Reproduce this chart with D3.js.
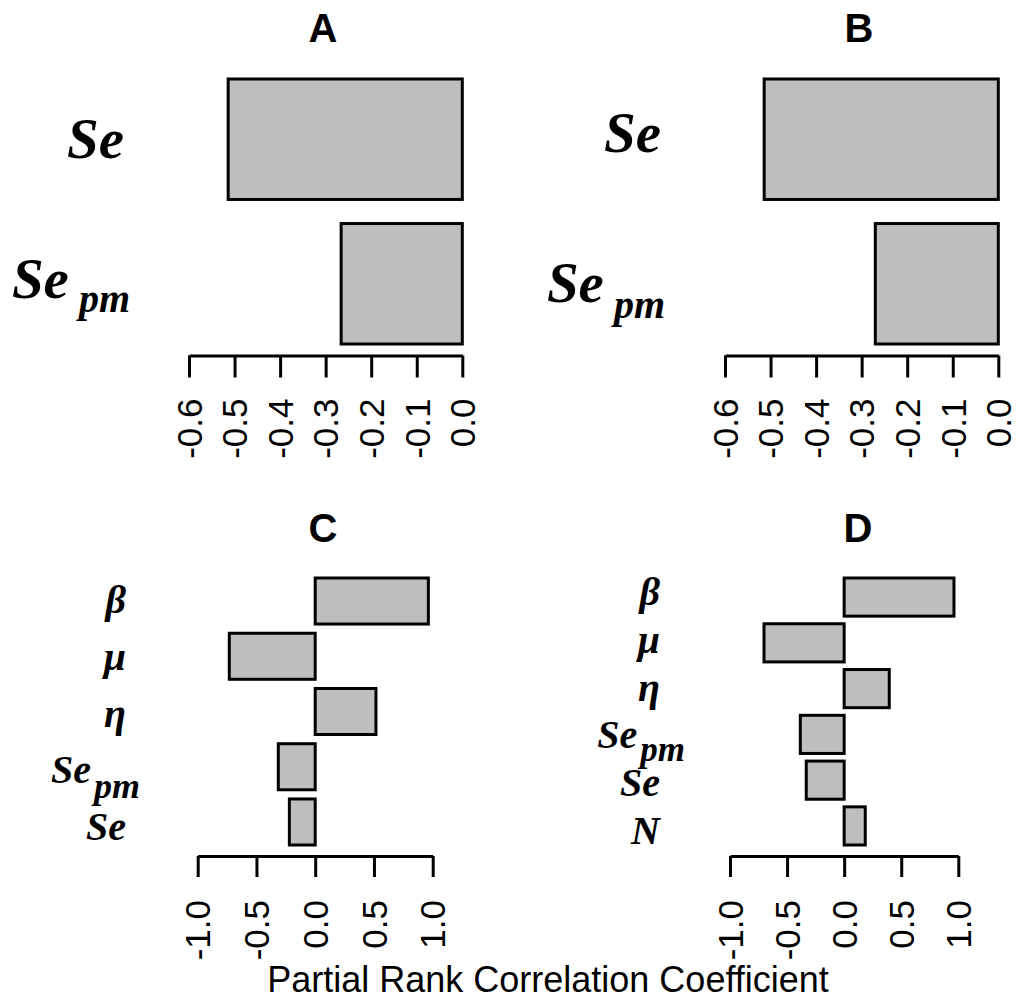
<!DOCTYPE html>
<html>
<head>
<meta charset="utf-8">
<script src="https://cdn.jsdelivr.net/npm/d3@7"></script>
<style>
  body { margin: 0; background: #fff; }
  svg { display: block; }
</style>
</head>
<body>
<script>
// PRCC values (top bar first)
const labelsAB = ['Se', 'Sepm'];
const valuesA = [-0.514, -0.266];
const valuesB = [-0.514, -0.270];

const labelsC = ['β', 'μ', 'η', 'Sepm', 'Se'];
const valuesC = [0.963, -0.731, 0.517, -0.314, -0.220];

const labelsD = ['β', 'μ', 'η', 'Sepm', 'Se', 'N'];
const valuesD = [0.962, -0.702, 0.395, -0.384, -0.332, 0.185];

const ticksAB = [-0.6, -0.5, -0.4, -0.3, -0.2, -0.1, 0.0];
const ticksCD = [-1.0, -0.5, 0.0, 0.5, 1.0];

const titles = ['A', 'B', 'C', 'D'];
const xTitle = 'Partial Rank Correlation Coefficient';

const width = 1020,
  height = 1003;

const svg = d3.select('body').append('svg')
  .attr('width', width)
  .attr('height', height);

// panel layout (pixels)
const panels = [
  {
    title: titles[0], labels: labelsAB, values: valuesA, ticks: ticksAB, domain: [-0.6, 0],
    xr: [189, 462.3], band: [79, 344], axisY: 355.5, tick: 22, gap: 43,
    tx: 323, ty: 42, lx: 124, lr: [158, 298], font: 57, sub: 40, subDx: 10, subDy: 14, over: 6,
  },
  {
    title: titles[1], labels: labelsAB, values: valuesB, ticks: ticksAB, domain: [-0.6, 0],
    xr: [725, 998.3], band: [79, 344], axisY: 355.5, tick: 22, gap: 43,
    tx: 859, ty: 42, lx: 661, lr: [152, 302], font: 57, sub: 40, subDx: 10, subDy: 16, over: 4,
  },
  {
    title: titles[2], labels: labelsC, values: valuesC, ticks: ticksCD, domain: [-1, 1],
    xr: [197.7, 432.7], band: [578, 845], axisY: 856, tick: 21, gap: 44,
    tx: 323, ty: 542, lx: 126, lr: [613, 840], font: 40, sub: 36, subDx: 3, subDy: 15, over: 14,
  },
  {
    title: titles[3], labels: labelsD, values: valuesD, ticks: ticksCD, domain: [-1, 1],
    xr: [730, 958.3], band: [578, 845], axisY: 856, tick: 21, gap: 44,
    tx: 858, ty: 542, lx: 660, lr: [605, 844], font: 40, sub: 35, subDx: 3, subDy: 13, over: 25,
  },
];

function drawPanel(p) {
  const g = svg.append('g');

  const x = d3.scaleLinear().domain(p.domain).range(p.xr);
  // R barplot: width 1, space 0.2
  const y = d3.scaleBand().domain(p.labels).range(p.band)
    .paddingInner(0.2 / 1.2).paddingOuter(0);
  const yl = d3.scalePoint().domain(p.labels).range(p.lr);

  const data = p.labels.map((l, i) => ({ label: l, value: p.values[i] }));

  // bars
  g.selectAll('rect')
    .data(data)
    .enter().append('rect')
    .attr('x', d => Math.min(x(0), x(d.value)))
    .attr('width', d => Math.abs(x(d.value) - x(0)))
    .attr('y', d => y(d.label))
    .attr('height', y.bandwidth())
    .attr('fill', '#bebebe')
    .attr('stroke', '#000')
    .attr('stroke-width', 3);

  // x axis
  const ax = g.append('g')
    .attr('transform', `translate(0,${p.axisY})`)
    .call(d3.axisBottom(x)
      .tickValues(p.ticks)
      .tickSize(p.tick)
      .tickSizeOuter(0)
      .tickFormat(d => d.toFixed(1)));
  ax.select('.domain').attr('stroke-width', 3);
  ax.selectAll('.tick line').attr('stroke-width', 3);
  ax.selectAll('.tick text')
    .attr('transform', 'rotate(-90)')
    .attr('x', -p.gap)
    .attr('y', 0)
    .attr('dy', '0.35em')
    .attr('text-anchor', 'end')
    .style('font-family', 'Liberation Sans, Arial, sans-serif')
    .style('font-size', '35px')
    .attr('fill', '#000');

  // category labels (bold italic math style)
  data.forEach((d) => {
    const t = g.append('text')
      .attr('y', yl(d.label))
      .attr('text-anchor', 'end')
      .style('font-family', 'Liberation Serif, Times New Roman, serif')
      .style('font-weight', 'bold')
      .style('font-style', 'italic')
      .style('font-size', `${p.font}px`);
    if (d.label === 'Sepm') {
      t.attr('x', p.lx + p.over);
      t.append('tspan').text('Se');
      t.append('tspan')
        .attr('dx', p.subDx)
        .attr('dy', p.subDy)
        .style('font-size', `${p.sub}px`)
        .text('pm');
    } else {
      t.attr('x', p.lx).text(d.label);
    }
  });

  // panel title
  g.append('text')
    .attr('x', p.tx)
    .attr('y', p.ty)
    .attr('text-anchor', 'middle')
    .style('font-family', 'Liberation Sans, Arial, sans-serif')
    .style('font-weight', 'bold')
    .style('font-size', '40px')
    .text(p.title);
}

panels.forEach(drawPanel);

svg.append('text')
  .attr('x', 548)
  .attr('y', 992)
  .attr('text-anchor', 'middle')
  .style('font-family', 'Liberation Sans, Arial, sans-serif')
  .style('font-size', '36px')
  .text(xTitle);
</script>
</body>
</html>
